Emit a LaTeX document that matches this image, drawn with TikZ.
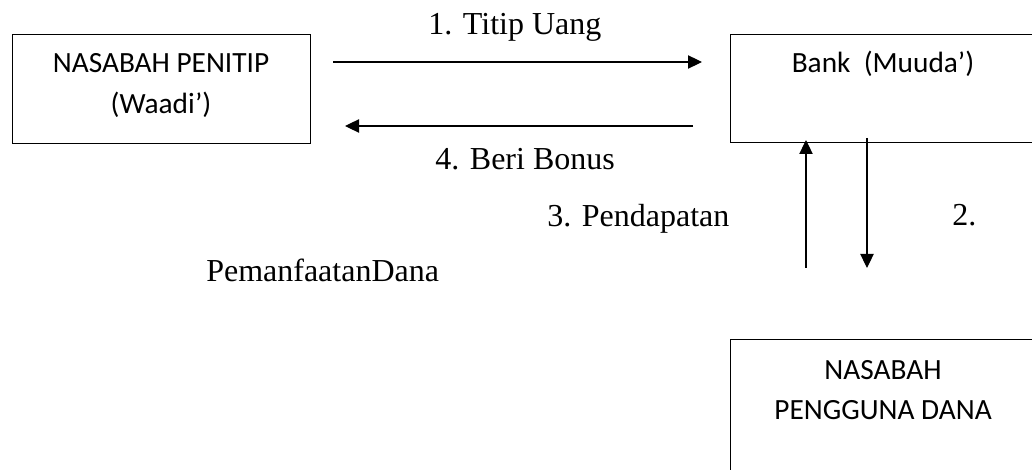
\documentclass[tikz,border=0pt]{standalone}
\usepackage{fontspec}
\setmainfont{Liberation Serif}
\newfontfamily\calibri{Carlito}
\usetikzlibrary{arrows.meta}
\tikzset{
  boxframe/.style={draw, line width=1.1pt, inner sep=0pt, anchor=north west},
  boxtext/.style={font=\calibri\fontsize{22}{30}\selectfont, inner sep=0pt, anchor=base},
  lbl/.style={font=\fontsize{24}{28}\selectfont, inner sep=0pt, anchor=base west},
  flow/.style={line width=0.8pt, -{Triangle[length=10.5pt,width=10pt]}}
}
\begin{document}
\begin{tikzpicture}[x=0.75pt,y=-0.75pt]
\useasboundingbox (0,0) rectangle (1032,470);
\clip (0,0) rectangle (1032,470);
% boxes
\node[boxframe, minimum width=223.5pt, minimum height=81.75pt] (pen) at (12,34) {};
\node[boxframe, minimum width=229.5pt, minimum height=81pt] (bank) at (730,34) {};
\node[boxframe, minimum width=229.5pt, minimum height=120pt] (usr) at (730,339) {};
% box texts
\node[boxtext] (pent1) at (161,73) {NASABAH PENITIP};
\node[boxtext] (pent2) at (161,114) {(Waadi’)};
\node[boxtext] (bankt) at (883,73) {Bank\ \ (Muuda’)};
\node[boxtext] (usrt1) at (883,379) {NASABAH};
\node[boxtext] (usrt2) at (883,419) {PENGGUNA DANA};
% labels
\node[lbl] (l1) at (428,35) {1. Titip Uang};
\node[lbl] (l4) at (435,170) {4. Beri Bonus};
\node[lbl] (l3) at (547,227) {3. Pendapatan};
\node[lbl] (l2) at (952,226) {2.};
\node[lbl] (l2b) at (206,282) {PemanfaatanDana};
% connector ends
\coordinate (a1s) at (333,62);
\coordinate (a1e) at (702,62);
\coordinate (a4s) at (693,126);
\coordinate (a4e) at (345,126);
\coordinate (a3s) at (806,268);
\coordinate (a3e) at (806,140);
\coordinate (a2s) at (867,138);
\coordinate (a2e) at (867,268);
% connectors
\draw[flow] (a1s) -- (a1e);
\draw[flow] (a4s) -- (a4e);
\draw[flow] (a3s) -- (a3e);
\draw[flow] (a2s) -- (a2e);
\end{tikzpicture}
\end{document}
